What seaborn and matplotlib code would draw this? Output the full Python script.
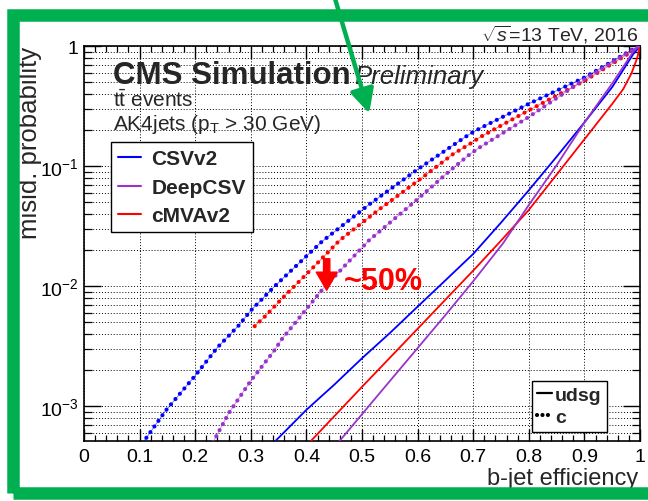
import matplotlib
matplotlib.use("Agg")
import matplotlib.pyplot as plt
import matplotlib.ticker as mticker
from matplotlib.lines import Line2D
from matplotlib.patches import Rectangle, FancyArrowPatch
import pandas as pd
import seaborn as sns

# ---------------- data ----------------
csv_c_x = [0.105, 0.147, 0.200, 0.240, 0.278, 0.300, 0.341, 0.360, 0.428, 0.514, 0.601, 0.664, 0.694, 0.712, 0.799, 0.901, 0.988, 1.000]
csv_c_y = [4.9e-4, 9.2e-4, 1.80e-3, 3.09e-3, 4.70e-3, 6.27e-3, 9.8e-3, 1.19e-2, 2.36e-2, 4.85e-2, 9.50e-2, 0.150, 0.186, 0.207, 0.330, 0.552, 0.950, 1.0]

cmva_c_x = [0.307, 0.327, 0.3525, 0.4125, 0.460, 0.532, 0.601, 0.664, 0.694, 0.712, 0.799, 0.901, 0.990, 1.000]
cmva_c_y = [4.65e-3, 5.69e-3, 7.59e-3, 1.44e-2, 2.42e-2, 4.41e-2, 7.59e-2, 0.1266, 0.1535, 0.1746, 0.291, 0.518, 0.933, 1.0]

deep_c_x = [0.232, 0.260, 0.300, 0.342, 0.356, 0.430, 0.512, 0.601, 0.658, 0.694, 0.712, 0.799, 0.901, 0.990, 1.000]
deep_c_y = [5.0e-4, 8.7e-4, 1.63e-3, 2.90e-3, 3.63e-3, 9.55e-3, 2.40e-2, 5.37e-2, 9.18e-2, 0.126, 0.144, 0.256, 0.534, 0.955, 1.0]

csv_l_x = [0.340, 0.400, 0.450, 0.500, 0.550, 0.600, 0.650, 0.700, 0.750, 0.800, 0.850, 0.900, 0.950, 0.988, 1.000]
csv_l_y = [4.9e-4, 9.33e-4, 1.51e-3, 2.51e-3, 4.07e-3, 6.76e-3, 1.12e-2, 1.86e-2, 3.39e-2, 6.31e-2, 0.120, 0.232, 0.457, 0.863, 1.0]

cmva_l_x = [0.404, 0.500, 0.600, 0.700, 0.746, 0.799, 0.850, 0.901, 0.950, 0.970, 0.985, 0.995, 1.000]
cmva_l_y = [4.9e-4, 1.45e-3, 4.42e-3, 1.35e-2, 2.29e-2, 4.27e-2, 8.51e-2, 0.170, 0.331, 0.441, 0.600, 0.800, 1.0]

deep_l_x = [0.456, 0.550, 0.650, 0.700, 0.754, 0.799, 0.850, 0.901, 0.950, 0.990, 1.000]
deep_l_y = [4.9e-4, 1.62e-3, 5.75e-3, 1.10e-2, 2.29e-2, 4.68e-2, 0.102, 0.235, 0.490, 0.933, 1.0]

taggers = ["CSVv2", "DeepCSV", "cMVAv2"]
flavours = ["udsg", "c"]
x_ticks = [0, 0.1, 0.2, 0.3, 0.4, 0.5, 0.6, 0.7, 0.8, 0.9, 1.0]
x_tick_labels = ["0", "0.1", "0.2", "0.3", "0.4", "0.5", "0.6", "0.7", "0.8", "0.9", "1"]
y_ticks = [1e-3, 1e-2, 1e-1, 1]
y_tick_labels = [r"$10^{-3}$", r"$10^{-2}$", r"$10^{-1}$", "1"]

colors = {"CSVv2": "#0000FF", "DeepCSV": "#9933CC", "cMVAv2": "#FF0000"}
GREEN = "#00B050"

series = [
    ("CSVv2", "c", csv_c_x, csv_c_y),
    ("cMVAv2", "c", cmva_c_x, cmva_c_y),
    ("DeepCSV", "c", deep_c_x, deep_c_y),
    ("CSVv2", "udsg", csv_l_x, csv_l_y),
    ("cMVAv2", "udsg", cmva_l_x, cmva_l_y),
    ("DeepCSV", "udsg", deep_l_x, deep_l_y),
]

# ---------------- style ----------------
sns.set_style("ticks")
plt.rcParams['font.family'] = ['Liberation Sans', 'DejaVu Sans']
plt.rcParams['mathtext.fontset'] = 'custom'
plt.rcParams['mathtext.rm'] = 'Liberation Sans'
plt.rcParams['mathtext.it'] = 'Liberation Sans:italic'
plt.rcParams['mathtext.bf'] = 'Liberation Sans:bold'

W, H = 648, 502
fig = plt.figure(figsize=(W / 100, H / 100), dpi=100)
ax_l, ax_r, ax_t, ax_b = 84, 640, 47.3, 441.7
ax = fig.add_axes([ax_l / W, 1 - ax_b / H, (ax_r - ax_l) / W, (ax_b - ax_t) / H])

for tagger, flav, xs, ys in series:
    df = pd.DataFrame({"eff": xs, "mis": ys})
    c = colors[tagger]
    if flav == "c":
        sns.lineplot(data=df, x="eff", y="mis", ax=ax, color=c, linewidth=0.6,
                     estimator=None, alpha=0.6, zorder=3)
        sns.lineplot(data=df, x="eff", y="mis", ax=ax, color=c, linewidth=3.0,
                     linestyle=(0, (0.01, 1.65)), estimator=None, zorder=4)
        ax.lines[-1].set_dash_capstyle("round")
    else:
        sns.lineplot(data=df, x="eff", y="mis", ax=ax, color=c, linewidth=1.3,
                     estimator=None, zorder=4)

ax.set_yscale("log")
ax.set_xlim(0, 1)
ax.set_ylim(5.16e-4, 1.0)

ax.set_xticks(x_ticks)
ax.set_xticklabels(x_tick_labels)
ax.xaxis.set_minor_locator(mticker.MultipleLocator(0.02))
ax.set_yticks(y_ticks)
ax.set_yticklabels(y_tick_labels)
ax.yaxis.set_minor_locator(mticker.LogLocator(base=10, subs=range(2, 10), numticks=20))
ax.yaxis.set_minor_formatter(mticker.NullFormatter())

ax.tick_params(axis="both", which="both", direction="in", top=True, right=True, colors="black")
ax.tick_params(axis="x", which="major", length=9, width=1.0, labelsize=14, pad=5)
ax.tick_params(axis="x", which="minor", length=4.5, width=0.9)
ax.tick_params(axis="y", which="major", length=12, width=1.0, labelsize=14, pad=4)
ax.tick_params(axis="y", which="minor", length=6, width=0.9)

ax.grid(True, which="major", axis="x", color="black", linestyle=(0, (1, 2)), linewidth=0.7)
ax.grid(True, which="both", axis="y", color="black", linestyle=(0, (1, 2)), linewidth=0.7)
for s in ax.spines.values():
    s.set_color("black")
    s.set_linewidth(1.2)

ax.set_xlabel("b-jet efficiency", fontsize=17, loc="right")
ax.xaxis.set_label_coords(0.996, -0.0665)
ax.set_ylabel("misid. probability", fontsize=18.5, loc="top")
ax.yaxis.set_label_coords(-0.0755, 1.0)

# ---------------- texts ----------------
ax.text(0.052, 0.908, "CMS Simulation", transform=ax.transAxes, fontsize=22.5,
        fontweight="bold", va="baseline", ha="left")
ax.text(0.486, 0.908, "Preliminary", transform=ax.transAxes, fontsize=18.5,
        fontstyle="italic", va="baseline", ha="left")
ax.text(0.052, 0.849, r"$\mathrm{t\bar{t}}$ events", transform=ax.transAxes,
        fontsize=15, va="baseline", ha="left")
ax.text(0.052, 0.790, r"AK4jets (p$_\mathrm{T}$ > 30 GeV)", transform=ax.transAxes,
        fontsize=15, va="baseline", ha="left")
fig.text(638 / W, 1 - 42 / H, r"$\sqrt{s}$=13 TeV, 2016", fontsize=14,
         ha="right", va="baseline")

# ---------------- legends ----------------
h1 = [Line2D([], [], color=colors[t], lw=1.5) for t in taggers]
leg1 = ax.legend(h1, taggers, loc="upper left", bbox_to_anchor=(0.048, 0.757),
                 borderaxespad=0, fancybox=False, framealpha=1, edgecolor="black",
                 prop={"weight": "bold", "size": 15}, handlelength=1.1,
                 handletextpad=0.5, labelspacing=0.45, borderpad=0.35)
leg1.get_frame().set_linewidth(1.0)
ax.add_artist(leg1)

h2 = [Line2D([], [], color="black", lw=1.6),
      Line2D([], [], color="black", lw=3.0, linestyle=(0, (0.01, 1.3)),
             dash_capstyle="round")]
leg2 = ax.legend(h2, flavours, loc="lower left", bbox_to_anchor=(0.805, 0.023),
                 borderaxespad=0, fancybox=False, framealpha=1, edgecolor="black",
                 prop={"weight": "bold", "size": 14}, handlelength=0.75,
                 handletextpad=0.15, labelspacing=0.2, borderpad=0.3)
leg2.get_frame().set_linewidth(1.0)

# ---------------- annotations ----------------
red_arrow = FancyArrowPatch((326.7, H - 257), (326.7, H - 294), transform=None,
                            arrowstyle="simple,head_width=1.5,head_length=1.3,tail_width=0.45",
                            mutation_scale=10, color="#FF0000", zorder=6)
fig.add_artist(red_arrow)
fig.text(344 / W, 1 - 290 / H, "~50%", color="#FF0000", fontsize=22,
         fontweight="bold", ha="left", va="baseline", zorder=6)

# green frame and pointer arrow
frame = Rectangle((13, 8), 641, 478, transform=None, fill=False,
                  edgecolor=GREEN, linewidth=9, zorder=10)
fig.add_artist(frame)
green_arrow = FancyArrowPatch((334.5, H + 2), (370, H - 117), transform=None,
                              arrowstyle="-|>,head_width=0.45,head_length=0.9",
                              mutation_scale=16, color=GREEN, linewidth=3.2, zorder=11)
fig.add_artist(green_arrow)

fig.savefig("out.png", dpi=100)
